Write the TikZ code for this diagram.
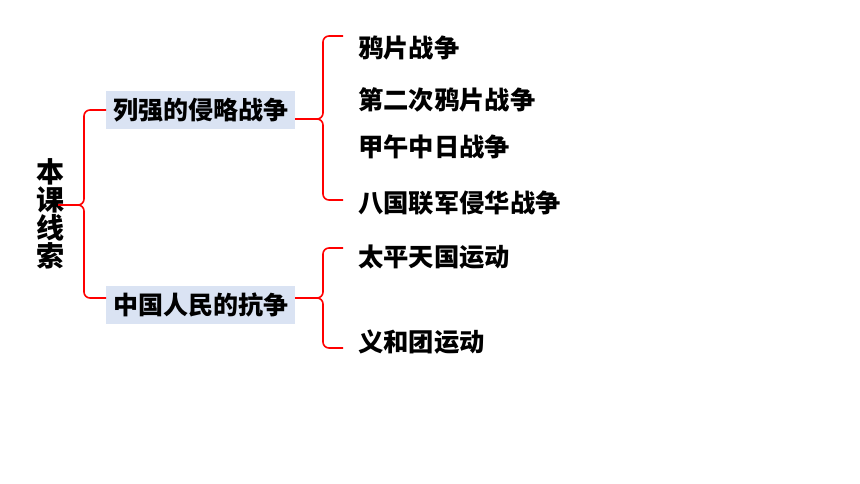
\documentclass[tikz,border=0pt]{standalone}
\usepackage{fontspec}
\setmainfont{Noto Sans CJK SC}[BoldFont={Noto Sans CJK SC Black}]
\definecolor{boxblue}{HTML}{DAE3F3}
\definecolor{bracered}{HTML}{FF0000}
\tikzset{
  leaf/.style={anchor=west,inner sep=0pt,font=\fontsize{25.3}{30}\selectfont\bfseries},
  topic/.style={fill=boxblue,inner sep=0pt,minimum width=189pt,minimum height=38pt,font=\fontsize{25}{30}\selectfont\bfseries},
  root/.style={align=center,inner sep=0pt,font=\fontsize{28}{28}\selectfont\bfseries},
  brace/.style={draw=bracered,line width=1.6pt,rounded corners=6pt}
}
\begin{document}
\begin{tikzpicture}[x=1pt,y=-1pt]
\useasboundingbox (0,0) rectangle (860,484);
% root
\node[root] (root) at (50,214) {本\\课\\线\\索};
\coordinate (rootTip) at (58,205);
% topics
\node[topic] (t1) at (200.5,110) {列强的侵略战争};
\node[topic] (t2) at (200.5,304.5) {中国人民的抗争};
% leaves
\node[leaf] (l1) at (358,48) {鸦片战争};
\node[leaf] (l2) at (358,100) {第二次鸦片战争};
\node[leaf] (l3) at (358,147) {甲午中日战争};
\node[leaf] (l4) at (358,203) {八国联军侵华战争};
\node[leaf] (l5) at (358,257) {太平天国运动};
\node[leaf] (l6) at (358,342) {义和团运动};
% bracket ends
\coordinate (e1) at (106,110);
\coordinate (e2) at (106,298);
\coordinate (a1) at (343,36);
\coordinate (a2) at (343,200);
\coordinate (b1) at (343,248);
\coordinate (b2) at (343,348);
% left brace
\draw[brace] (e1) -- (84,110) -- (84,205) -- (rootTip);
\draw[brace] (e2) -- (84,298) -- (84,205) -- (rootTip);
% upper right brace
\draw[brace] (a1) -- (323,36) -- (323,119) -- (t1.east |- 0,119);
\draw[brace] (a2) -- (323,200) -- (323,119) -- (t1.east |- 0,119);
% lower right brace
\draw[brace] (b1) -- (323,248) -- (323,298) -- (t2.east |- 0,298);
\draw[brace] (b2) -- (323,348) -- (323,298) -- (t2.east |- 0,298);
\end{tikzpicture}
\end{document}
